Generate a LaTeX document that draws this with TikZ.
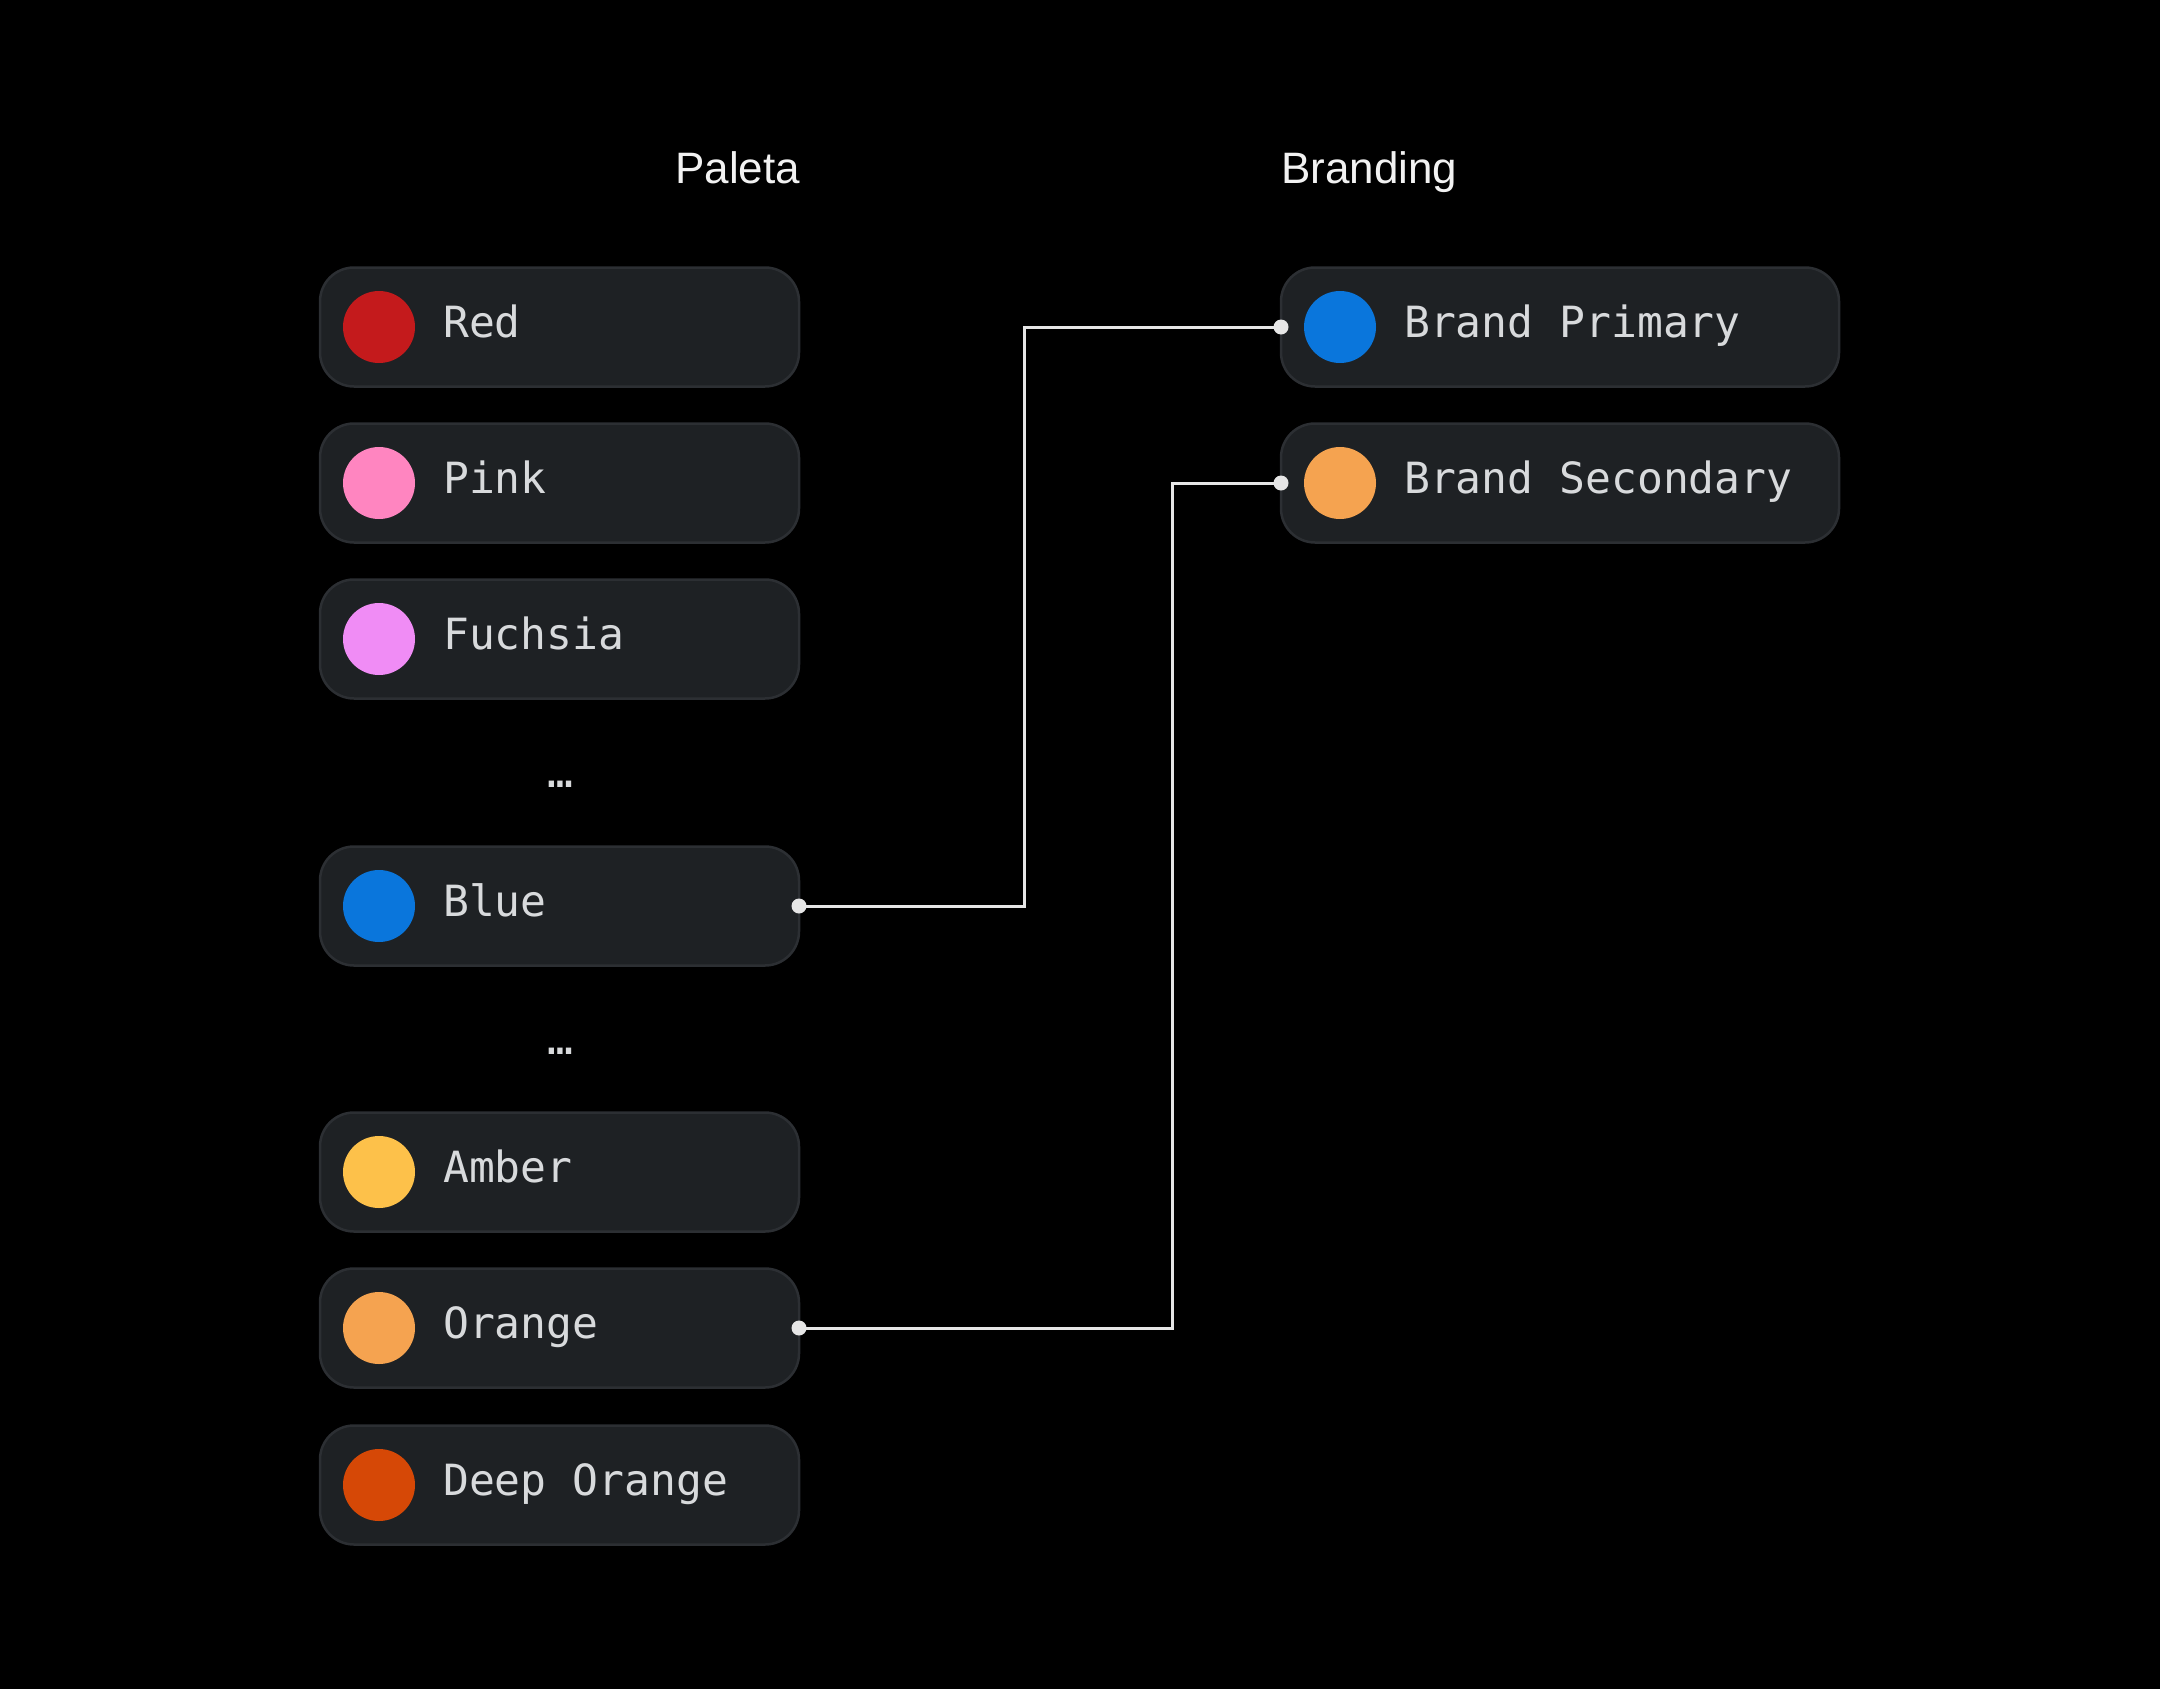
\documentclass[tikz,border=0pt]{standalone}
\usepackage{fontspec}
\setmainfont{Liberation Sans}
\newfontfamily\monof{DejaVu Sans Mono}
\definecolor{boxfill}{HTML}{1E2124}
\definecolor{boxline}{HTML}{2C2F33}
\definecolor{labelc}{HTML}{D8DADC}
\definecolor{headc}{HTML}{F2F2F2}
\definecolor{connc}{HTML}{E6E6E6}
\definecolor{cRed}{HTML}{C41A1C}
\definecolor{cPink}{HTML}{FF85C0}
\definecolor{cFuchsia}{HTML}{F08CF5}
\definecolor{cBlue}{HTML}{0A76DC}
\definecolor{cAmber}{HTML}{FDC14A}
\definecolor{cOrange}{HTML}{F5A350}
\definecolor{cDeep}{HTML}{D64806}
\newcommand\swatchrow[6]{% name, left x, center y, color, label, width
  \node[cardbox, minimum width=#6, anchor=west] (#1) at (#2,#3) {};
  \node[swatch, fill=#4] (#1c) at (#2+59,#3) {};
  \node[cardtext] (#1t) at (#2+123,#3+10.5) {#5};
}
\begin{document}
\begin{tikzpicture}[x=1pt,y=-1pt,
  cardbox/.style={rectangle, rounded corners=34pt, fill=boxfill, draw=boxline, line width=2.5pt, minimum height=119pt, inner sep=0pt, outer sep=0pt},
  swatch/.style={circle, minimum size=72pt, inner sep=0pt, outer sep=0pt},
  cardtext/.style={anchor=base west, inner sep=0pt, text=labelc, font=\monof\fontsize{43}{50}\selectfont},
  header/.style={anchor=base west, inner sep=0pt, text=headc, font=\fontsize{44}{50}\selectfont},
  ellip/.style={anchor=base, inner sep=0pt, text=labelc, font=\monof\fontsize{43}{50}\selectfont},
  conn/.style={draw=connc, line width=3pt},
  enddot/.style={fill=connc}]
\fill[black] (0,0) rectangle (2160,1689);
\useasboundingbox (0,0) rectangle (2160,1689);

\node[header] (paleta) at (675,183) {Paleta};
\node[header] (branding) at (1281,183) {Branding};

\swatchrow{red}{320}{327}{cRed}{Red}{479pt}
\swatchrow{pink}{320}{483}{cPink}{Pink}{479pt}
\swatchrow{fuchsia}{320}{639}{cFuchsia}{Fuchsia}{479pt}
\node[ellip] (dots1) at (560,787) {…};
\swatchrow{blue}{320}{906}{cBlue}{Blue}{479pt}
\node[ellip] (dots2) at (560,1054) {…};
\swatchrow{amber}{320}{1172}{cAmber}{Amber}{479pt}
\swatchrow{orange}{320}{1328}{cOrange}{Orange}{479pt}
\swatchrow{deep}{320}{1485}{cDeep}{Deep Orange}{479pt}

\swatchrow{bp}{1281}{327}{cBlue}{Brand Primary}{558pt}
\swatchrow{bs}{1281}{483}{cOrange}{Brand Secondary}{558pt}

\draw[conn] (blue.east) -- ++(225,0) |- (bp.west);
\draw[conn] (orange.east) -- ++(373,0) |- (bs.west);
\fill[enddot] (blue.east) circle (7.5);
\fill[enddot] (orange.east) circle (7.5);
\fill[enddot] (bp.west) circle (7.5);
\fill[enddot] (bs.west) circle (7.5);
\end{tikzpicture}
\end{document}
